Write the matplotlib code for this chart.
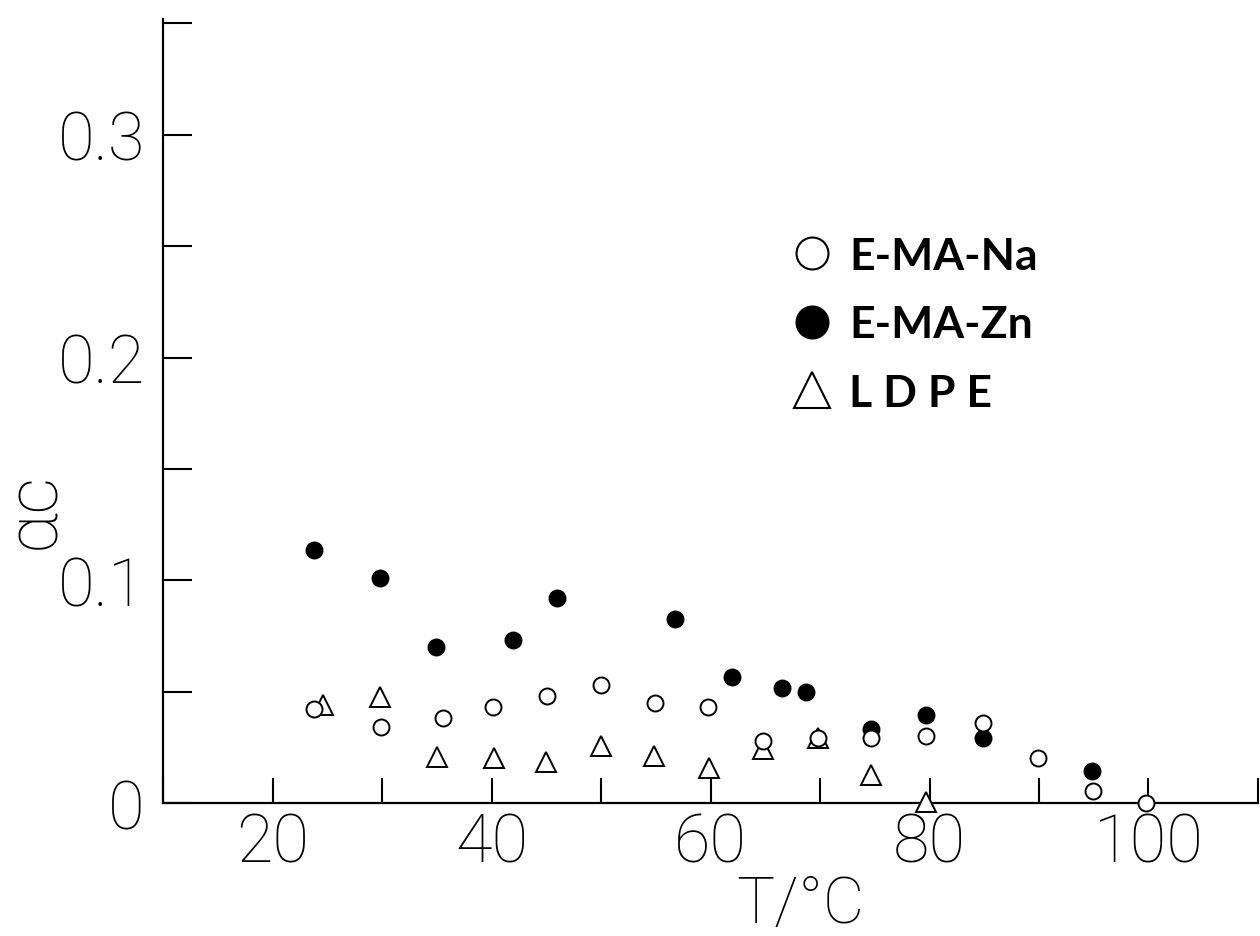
import numpy as np
import matplotlib
matplotlib.use("Agg")
import matplotlib.pyplot as plt
from matplotlib.lines import Line2D

# dados
na_T = [23.8, 29.9, 35.6, 40.1, 45.1, 50.0, 54.9, 59.8, 64.8, 69.8, 74.7, 79.7, 84.9, 89.9, 94.9, 99.8]
na_a = [0.042, 0.034, 0.038, 0.043, 0.048, 0.053, 0.045, 0.043, 0.028, 0.029, 0.029, 0.030, 0.036, 0.020, 0.0055, 0.0]

zn_T = [23.8, 29.8, 34.9, 42.0, 46.0, 56.8, 62.0, 66.5, 68.7, 74.7, 79.7, 84.9, 94.8]
zn_a = [0.1137, 0.1012, 0.0701, 0.0732, 0.0921, 0.0827, 0.0567, 0.0516, 0.050, 0.0333, 0.0394, 0.0293, 0.0144]

ldpe_T = [24.6, 29.8, 35.0, 40.2, 45.0, 50.0, 54.8, 59.9, 64.8, 69.8, 74.7, 79.7]
ldpe_a = [0.0442, 0.0475, 0.0207, 0.0204, 0.0186, 0.0256, 0.0211, 0.0159, 0.0241, 0.0293, 0.0125, 0.0003]

labels = ["E-MA-Na", "E-MA-Zn", "L D P E"]
xticks = [10, 20, 30, 40, 50, 60, 70, 80, 90, 100, 110]
xtick_labels = ["", "20", "", "40", "", "60", "", "80", "", "100", ""]
yticks = [0, 0.05, 0.1, 0.15, 0.2, 0.25, 0.3, 0.35]
ytick_labels = ["0", "", "0.1", "", "0.2", "", "0.3", ""]

tick_font = dict(family=["Roboto", "DejaVu Sans"], weight="light", size=48, color="black")

fig = plt.figure(figsize=(12.6, 9.37), dpi=100)
ax = fig.add_axes([0.1294, 0.1419, 0.869, 0.8368])

ax.plot(ldpe_T, ldpe_a, linestyle="none", marker="^", ms=14, mfc="white",
        mec="black", mew=1.4, zorder=3, clip_on=False)
ax.plot(zn_T, zn_a, linestyle="none", marker="o", ms=11.5, mfc="black",
        mec="black", mew=1.4, zorder=4, clip_on=False)
ax.plot(na_T, na_a, linestyle="none", marker="o", ms=11.5, mfc="white",
        mec="black", mew=1.4, zorder=5, clip_on=False)

ax.set_xlim(10, 110)
ax.set_ylim(0, 0.352)

for s in ["top", "right"]:
    ax.spines[s].set_visible(False)
for s in ["left", "bottom"]:
    ax.spines[s].set_linewidth(1.6)

ax.set_xticks(xticks)
ax.set_xticklabels(xtick_labels, fontdict=tick_font)
ax.set_yticks(yticks)
ax.set_yticklabels(ytick_labels, fontdict=tick_font)
ax.tick_params(axis="x", direction="in", length=18, width=1.5, pad=6)
ax.tick_params(axis="y", direction="in", length=21, width=1.5, pad=13)

# rótulos dos eixos (posição ajustada à mão)
ax.set_xlabel("T/°C", fontdict=dict(tick_font, size=46))
ax.xaxis.set_label_coords(0.582, -0.089)
ax.set_ylabel("αc", fontdict=dict(tick_font, size=52))
ax.yaxis.set_label_coords(-0.086, 0.375)

handles = [
    Line2D([], [], linestyle="none", marker="o", ms=23, mfc="white", mec="black", mew=1.5),
    Line2D([], [], linestyle="none", marker="o", ms=23, mfc="black", mec="black", mew=1.5),
    Line2D([], [], linestyle="none", marker="^", ms=26, mfc="white", mec="black", mew=1.5),
]
ax.legend(handles, labels, loc="upper left", bbox_to_anchor=(0.5726, 0.7235),
          frameon=False, borderpad=0, borderaxespad=0, handlelength=1.0,
          handletextpad=0.33, labelspacing=0.64,
          prop=dict(family=["Lato", "DejaVu Sans"], weight="bold", size=32))

fig.savefig("out.png", dpi=100)
